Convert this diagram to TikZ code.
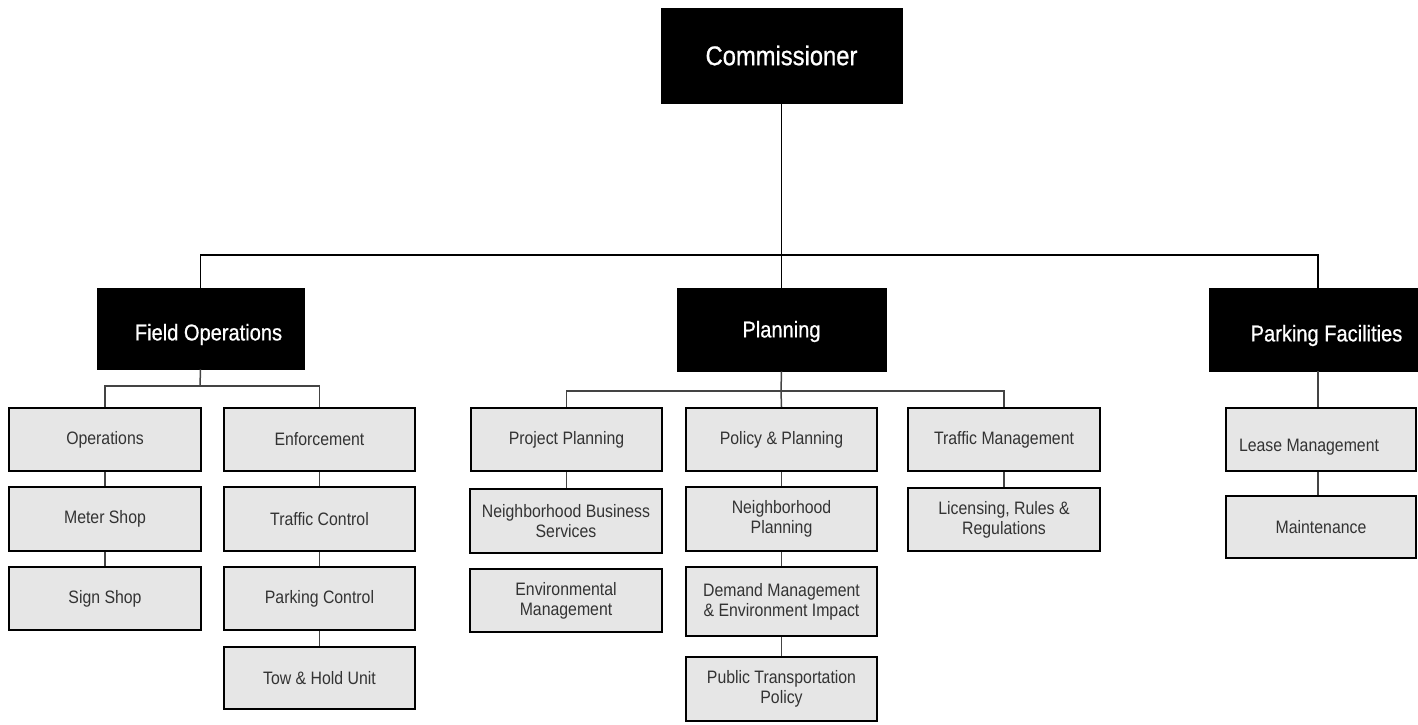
\documentclass[tikz,border=0pt]{standalone}
\usepackage{fontspec}
\setmainfont{Liberation Sans}[FakeStretch=0.88]
\newfontfamily\headfont{Liberation Sans}[FakeStretch=0.88, FakeBold=0.8]
\definecolor{boxfill}{HTML}{E6E6E6}
\definecolor{subtext}{HTML}{333333}
\definecolor{conn}{HTML}{444444}
\tikzset{
  head/.style={draw=black, fill=black, text=white, inner sep=0pt, font=\headfont\fontsize{11.4}{13}\selectfont},
  bighead/.style={head, font=\headfont\fontsize{13.5}{15}\selectfont},
  sub/.style={draw=black, line width=1pt, fill=boxfill, text=subtext, inner sep=0pt, align=center, font=\fontsize{9}{10}\selectfont},
  link/.style={draw=conn, line width=0.75pt},
  toplink/.style={draw=black, line width=0.6pt},
  thicklink/.style={draw=black, line width=1.3pt},
}
\newcommand\mkbox[7]{\node[#1, minimum width={(#4-#3)*0.5pt}, minimum height={(#6-#5)*0.5pt}] (#2) at ({(#3+#4)/2},{(#5+#6)/2}) {#7};}
\begin{document}
\begin{tikzpicture}[x=0.5pt,y=-0.5pt]
\useasboundingbox (0,0) rectangle (1418,724);
% headers
\mkbox{bighead}{com}{661}{902}{8}{103}{Commissioner}
\mkbox{head}{fo}{97}{304}{288}{369}{\hspace*{8pt}\raisebox{-3pt}[\height][\depth]{Field Operations}}
\mkbox{head}{pl}{677}{886}{288}{371}{\raisebox{-1pt}[\height][\depth]{Planning}}
\mkbox{head}{pf}{1209}{1418}{288}{371}{\hspace*{13pt}\raisebox{-3pt}[\height][\depth]{Parking Facilities}}
% field operations
\mkbox{sub}{ops}{9}{201}{408}{471}{Operations}
\mkbox{sub}{ms}{9}{201}{487}{551}{Meter Shop}
\mkbox{sub}{ss}{9}{201}{567}{630}{Sign Shop}
\mkbox{sub}{enf}{224}{415}{408}{471}{Enforcement}
\mkbox{sub}{tc}{224}{415}{487}{551}{Traffic Control}
\mkbox{sub}{pc}{224}{415}{567}{630}{Parking Control}
\mkbox{sub}{th}{224}{415}{647}{709}{Tow \& Hold Unit}
% planning
\mkbox{sub}{pp}{471}{662}{408}{471}{Project Planning}
\mkbox{sub}{nbs}{470}{662}{489}{553}{Neighborhood Business\\Services}
\mkbox{sub}{em}{470}{662}{569}{632}{Environmental\\Management}
\mkbox{sub}{pol}{686}{877}{408}{471}{Policy \& Planning}
\mkbox{sub}{np}{686}{877}{487}{551}{Neighborhood\\Planning}
\mkbox{sub}{dm}{686}{877}{567}{636}{Demand Management\\\& Environment Impact}
\mkbox{sub}{pt}{686}{877}{657}{721}{Public Transportation\\Policy}
\mkbox{sub}{tm}{908}{1100}{408}{471}{Traffic Management}
\mkbox{sub}{lic}{908}{1100}{488}{551}{Licensing, Rules \&\\Regulations}
% parking facilities
\mkbox{sub}{lm}{1226}{1416}{408}{471}{\raisebox{-4pt}[\height][\depth]{Lease Management}\hspace*{12pt}}
\mkbox{sub}{mt}{1226}{1416}{496}{558}{Maintenance}
% top level connectors
\coordinate (topJ) at (781,255);
\coordinate (thickE) at (940,255);
\draw[toplink] (com.south) -- (pl.north);
\draw[toplink] (fo.north) |- (topJ) -| (1318,0 |- pf.north);
\draw[thicklink] (topJ) -- (thickE);
% field operations connectors
\coordinate (foJ) at (200,386);
\draw[link] (fo.south) -- (foJ);
\draw[link] (ops.north) |- (foJ) -| (enf.north);
\draw[link] (ops.south) -- (ms.north);
\draw[link] (ms.south) -- (ss.north);
\draw[link] (enf.south) -- (tc.north);
\draw[link] (tc.south) -- (pc.north);
\draw[link] (pc.south) -- (th.north);
% planning connectors
\coordinate (plJ) at (781,391);
\draw[link] (pl.south) -- (plJ);
\draw[link] (pp.north) |- (plJ) -| (tm.north);
\draw[link] (plJ) -- (pol.north);
\draw[link] (pp.south) -- (pp.south |- nbs.north);
\draw[link] (pol.south) -- (np.north);
\draw[link] (np.south) -- (dm.north);
\draw[link] (dm.south) -- (pt.north);
\draw[link] (tm.south) -- (lic.north);
% parking facilities connectors
\draw[link] (1318,0 |- pf.south) -- (1318,0 |- lm.north);
\draw[link] (1318,0 |- lm.south) -- (1318,0 |- mt.north);
\end{tikzpicture}
\end{document}
